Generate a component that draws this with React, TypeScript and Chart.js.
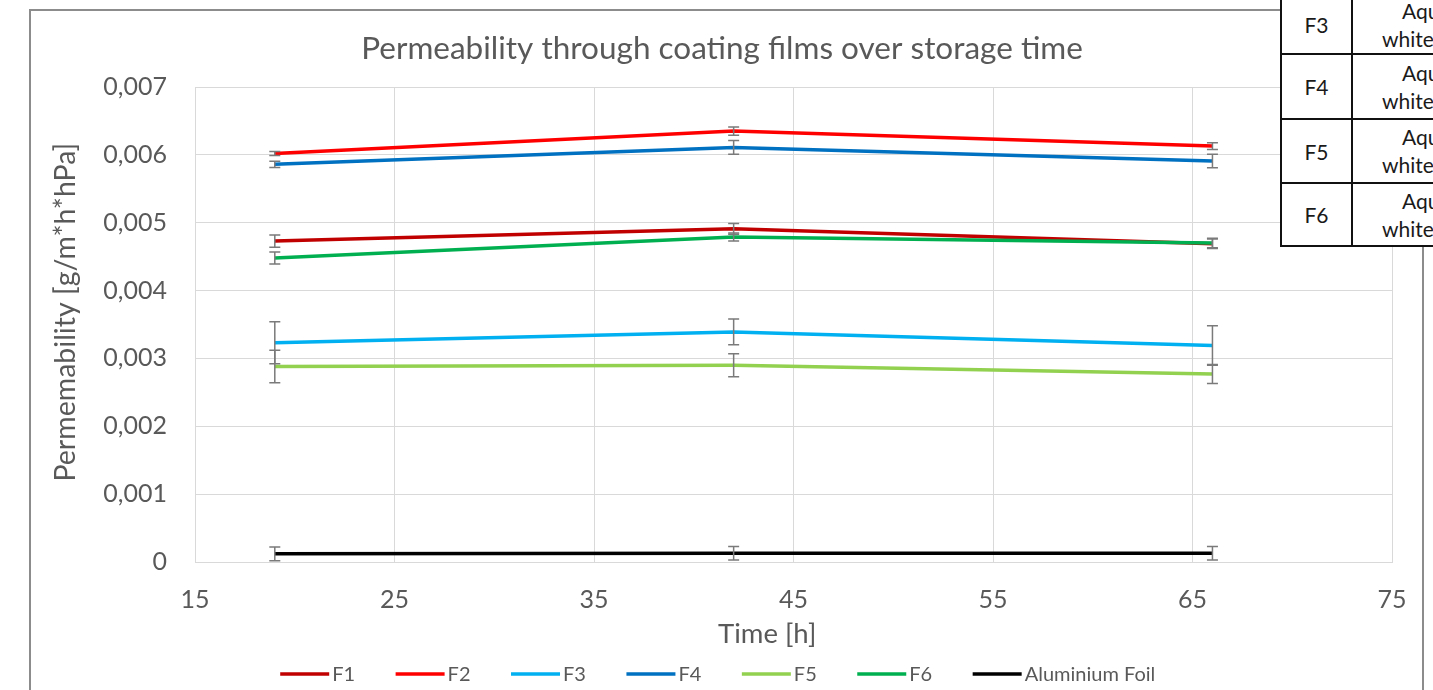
import React, { useEffect, useRef } from "react";
import { Chart, registerables } from "chart.js";

Chart.register(...registerables);

// ---------- data ----------
const timeHours = [19, 42, 66];
const seriesNames = ["F1", "F2", "F3", "F4", "F5", "F6", "Aluminium Foil"];
const seriesColors = ["#C00000", "#FF0000", "#00B0F0", "#0070C0", "#92D050", "#00B050", "#000000"];

const f1 = [0.00473, 0.00491, 0.00469];
const f2 = [0.00602, 0.00635, 0.00613];
const f3 = [0.00323, 0.00339, 0.00319];
const f4 = [0.00586, 0.00611, 0.00591];
const f5 = [0.00288, 0.0029, 0.00277];
const f6 = [0.00448, 0.00479, 0.0047];
const alFoil = [0.00012, 0.00013, 0.00013];

const f1Err = [0.00009, 0.00008, 0.00007];
const f2Err = [0.00003, 0.00006, 0.00005];
const f3Err = [0.00031, 0.00019, 0.00029];
const f4Err = [0.000045, 0.0001, 0.0001];
const f5Err = [0.00024, 0.00017, 0.00014];
const f6Err = [0.00009, 0.00006, 0.00007];
const alFoilErr = [0.0001, 0.0001, 0.0001];

const seriesValues = [f1, f2, f3, f4, f5, f6, alFoil];
const seriesErrors = [f1Err, f2Err, f3Err, f4Err, f5Err, f6Err, alFoilErr];

const xTickMin = 15;
const xTickMax = 75;
const xTickStep = 10;
const yTickMin = 0;
const yTickMax = 0.007;
const yTickStep = 0.001;

const chartTitle = "Permeability through coating films over storage time";
const xAxisTitle = "Time [h]";
const yAxisTitle = "Permemability [g/m*h*hPa]";

const tableRows = ["F3", "F4", "F5", "F6"];
const tableLine1 = "Aqueous";
const tableLine2 = "white";

// ---------- styles ----------
const TEXT = "#595959";
const GRID = "#d9d9d9";
const FONT = "Lato, 'Open Sans', sans-serif";

const errorBarPlugin = {
  id: "errorBars",
  afterDatasetsDraw(chart: any) {
    const { ctx } = chart;
    const xs = chart.scales.x;
    const ys = chart.scales.y;
    ctx.save();
    ctx.strokeStyle = "#7a7a7a";
    ctx.lineWidth = 1.5;
    chart.data.datasets.forEach((ds: any, i: number) => {
      const errs = seriesErrors[i];
      ds.data.forEach((pt: any, j: number) => {
        const px = xs.getPixelForValue(pt.x);
        const top = ys.getPixelForValue(pt.y + errs[j]);
        const bot = ys.getPixelForValue(pt.y - errs[j]);
        const cap = 5.5;
        ctx.beginPath();
        ctx.moveTo(px, top);
        ctx.lineTo(px, bot);
        ctx.moveTo(px - cap, top);
        ctx.lineTo(px + cap, top);
        ctx.moveTo(px - cap, bot);
        ctx.lineTo(px + cap, bot);
        ctx.stroke();
      });
    });
    ctx.restore();
  },
};

const textPlugin = {
  id: "texts",
  afterDraw(chart: any) {
    const { ctx, chartArea } = chart;
    ctx.save();
    ctx.fillStyle = TEXT;
    ctx.textAlign = "center";
    ctx.textBaseline = "middle";

    // chart title
    ctx.font = `31.5px ${FONT}`;
    ctx.fillText(chartTitle, chart.width * 0.4968, 38);

    // axis titles
    const w = chartArea.right - chartArea.left;
    const h = chartArea.bottom - chartArea.top;
    ctx.font = `27.5px ${FONT}`;
    ctx.fillText(xAxisTitle, chartArea.left + 0.478 * w, chartArea.bottom + 72);
    ctx.save();
    ctx.font = `28.5px ${FONT}`;
    ctx.translate(35, chartArea.top + 0.474 * h);
    ctx.rotate(-Math.PI / 2);
    ctx.fillText(yAxisTitle, 0, 0);
    ctx.restore();

    // legend
    ctx.font = `20px ${FONT}`;
    ctx.textAlign = "left";
    const lineLen = 49;
    const gapText = 3;
    const gapItem = 40.5;
    const items = chart.data.datasets.map((ds: any) => ({
      label: ds.label,
      color: ds.borderColor,
      w: lineLen + gapText + ctx.measureText(ds.label).width,
    }));
    const total = items.reduce((s: number, it: any) => s + it.w, 0) + gapItem * (items.length - 1);
    let x = chart.width * 0.4937 - total / 2;
    const ly = chartArea.bottom + 112;
    items.forEach((it: any) => {
      ctx.strokeStyle = it.color;
      ctx.lineWidth = 3.5;
      ctx.beginPath();
      ctx.moveTo(x, ly);
      ctx.lineTo(x + lineLen, ly);
      ctx.stroke();
      ctx.fillText(it.label, x + lineLen + gapText, ly + 1);
      x += it.w + gapItem;
    });
    ctx.restore();
  },
};

function App() {
  const canvasRef = useRef<HTMLCanvasElement | null>(null);

  useEffect(() => {
    if (!canvasRef.current) return;
    const datasets = seriesNames.map((name, i) => ({
      label: name,
      data: timeHours.map((t, j) => ({ x: t, y: seriesValues[i][j] })),
      borderColor: seriesColors[i],
      backgroundColor: seriesColors[i],
      borderWidth: 3.5,
      pointRadius: 0,
      pointHoverRadius: 0,
      tension: 0,
      fill: false,
      order: -i,
    }));

    const chart = new Chart(canvasRef.current, {
      type: "line",
      data: { datasets },
      plugins: [errorBarPlugin, textPlugin],
      options: {
        animation: false,
        responsive: false,
        devicePixelRatio: 1,
        layout: { padding: { left: 0, right: 30, top: 76, bottom: 106.5 } },
        plugins: {
          tooltip: { enabled: false },
          title: { display: false },
          legend: { display: false },
        },
        scales: {
          x: {
            type: "linear",
            min: xTickMin,
            max: xTickMax,
            afterFit: (s: any) => {
              s.height = 62.5;
              s.paddingLeft = 15;
              s.paddingRight = 15;
            },
            ticks: {
              stepSize: xTickStep,
              color: TEXT,
              font: { family: FONT, size: 25 },
              padding: 23,
              maxRotation: 0,
            },
            grid: { color: GRID, lineWidth: 1, drawTicks: false },
            border: { color: GRID, width: 1 },
          },
          y: {
            type: "linear",
            min: yTickMin,
            max: yTickMax,
            afterFit: (s: any) => {
              s.width = 164;
            },
            ticks: {
              stepSize: yTickStep,
              color: TEXT,
              font: { family: FONT, size: 25 },
              padding: 28,
              callback: (v: any) => (Math.abs(v) < 1e-12 ? "0" : Number(v).toFixed(3).replace(".", ",")),
            },
            grid: { color: GRID, lineWidth: 1, drawTicks: false },
            border: { color: GRID, width: 1 },
          },
        },
      } as any,
    });
    return () => chart.destroy();
  }, []);

  const rowHeights = [57, 63, 62, 61];

  return (
    <div
      style={{
        position: "fixed",
        left: 0,
        top: 0,
        width: "100vw",
        height: "100vh",
        overflow: "hidden",
        background: "#ffffff",
      }}
    >
      <div
        style={{
          position: "absolute",
          left: 29,
          top: 9,
          width: 1391,
          height: 760,
          border: "2px solid #8c8c8c",
          background: "#ffffff",
        }}
      >
        <canvas ref={canvasRef} width={1391} height={720} style={{ display: "block", width: 1391, height: 720 }} />
      </div>
      <div
        style={{
          position: "absolute",
          left: 1280,
          top: -4,
          width: 300,
          background: "#ffffff",
          borderLeft: "2px solid #111",
          fontFamily: FONT,
          fontSize: 21,
          color: "#1a1a1a",
        }}
      >
        {tableRows.map((r, i) => (
          <div
            key={r}
            style={{
              display: "flex",
              height: rowHeights[i],
              borderBottom: "2px solid #111",
            }}
          >
            <div
              style={{
                width: 69,
                borderRight: "2px solid #111",
                display: "flex",
                alignItems: "center",
                justifyContent: "center",
              }}
            >
              {r}
            </div>
            <div
              style={{
                flex: 1,
                display: "flex",
                flexDirection: "column",
                justifyContent: "center",
                lineHeight: "28px",
                whiteSpace: "nowrap",
              }}
            >
              <div style={{ marginLeft: 49 }}>{tableLine1}</div>
              <div style={{ marginLeft: 29 }}>{tableLine2}</div>
            </div>
          </div>
        ))}
      </div>
    </div>
  );
}

export default App;
